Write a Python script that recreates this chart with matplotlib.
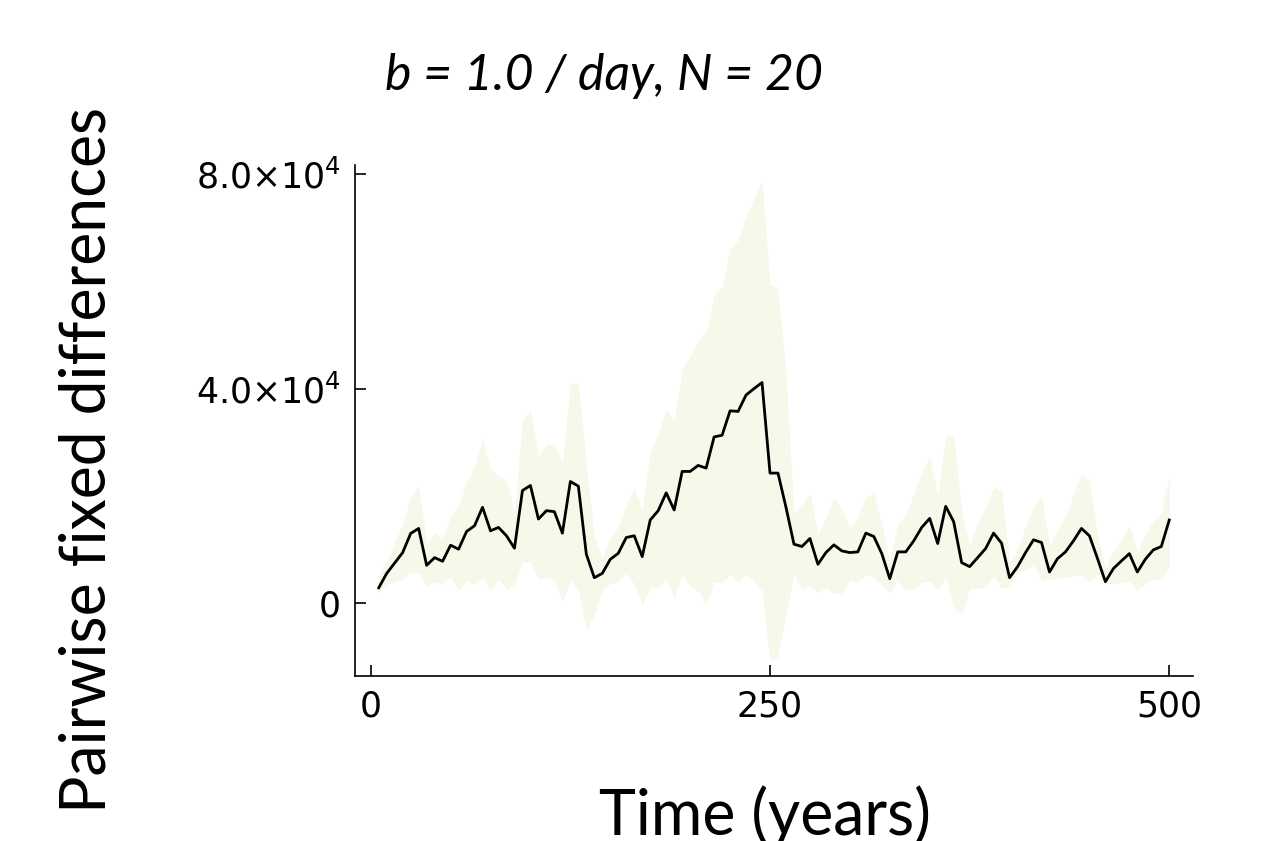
import numpy as np
import matplotlib
matplotlib.use("Agg")
import matplotlib.pyplot as plt

# time grid (years) and ribbon data
time = np.arange(5, 505, 5)

mean_diff = [2870, 5560, 7500, 9430, 12990, 13930, 7060, 8490, 7810, 10810,
             10060, 13360, 14430, 17870, 13490, 14120, 12560, 10240, 20990, 21930,
             15680, 17240, 17050, 13050, 22680, 21800, 9120, 4750, 5560, 8180,
             9300, 12240, 12560, 8680, 15500, 17240, 20560, 17370, 24550, 24550,
             25670, 25170, 30980, 31300, 35850, 35730, 38790, 39980, 41110, 24240,
             24240, 17870, 11000, 10560, 12060, 7250, 9430, 10870, 9740, 9430,
             9560, 13060, 12430, 9240, 4560, 9560, 9560, 11620, 14120, 15800,
             11120, 18050, 15180, 7560, 6810, 8490, 10180, 13060, 11180, 4750,
             6810, 9430, 11810, 11310, 5810, 8300, 9560, 11620, 13930, 12560,
             8370, 4000, 6450, 7870, 9240, 5810, 8180, 9930, 10560, 15500]

upper_diff = [5000, 7870, 11310, 14740, 19740, 21930, 11120, 13060, 12120, 16300,
              18180, 22550, 25360, 30670, 25050, 23800, 22740, 16930, 34110, 35980,
              27230, 29610, 29610, 26300, 40850, 41100, 26000, 12240, 8620, 12430,
              14120, 18500, 21490, 17550, 28170, 31610, 36300, 33980, 43600, 45970,
              49100, 50350, 57340, 58970, 65960, 67710, 72210, 75330, 78950, 59410,
              58600, 43000, 16620, 18500, 20570, 12870, 15990, 19740, 17550, 14120,
              15990, 19740, 20570, 14740, 7870, 14740, 16620, 20370, 24420, 27230,
              20050, 31110, 31110, 17240, 10680, 14740, 17870, 21620, 21120, 7560,
              10060, 14430, 17870, 20050, 10680, 13810, 15990, 20370, 24110, 22740,
              12870, 6620, 9700, 11620, 14620, 9430, 12870, 15370, 16930, 24110]

lower_diff = [2000, 3500, 3930, 4430, 5810, 5680, 3060, 3930, 3620, 4930,
              2250, 4250, 3370, 4750, 2250, 4430, 2560, 3370, 7680, 7680,
              4560, 4750, 4120, 370, 4310, 2250, -4930, -2120, 2560, 3620,
              4000, 5700, 3500, -120, 2870, 3000, 4750, 1000, 5370, 3190,
              2250, -120, 4000, 3810, 5370, 3810, 5370, 4000, 2250, -10870,
              -9930, -2120, 5370, 2780, 3190, 1870, 3000, 1810, 1870, 4430,
              3810, 5370, 4750, 3370, 1810, 4250, 2440, 2440, 3810, 4120,
              2370, 4870, -870, -1940, 2750, 2750, 3000, 5060, 2870, 3000,
              5680, 6310, 7120, 4310, 4430, 4750, 4750, 5060, 5250, 3810,
              5370, 3500, 3700, 3810, 4120, 2250, 3620, 4430, 4620, 6600]

x_ticks = [0, 250, 500]
y_ticks = [0, 40000, 80000]
y_tick_labels = ["0", r"$4.0{\times}10^{4}$", r"$8.0{\times}10^{4}$"]

if __name__ == '__main__':
    fig = plt.figure(figsize=(12.61, 8.41), dpi=100)
    ax = fig.add_axes([355 / 1261, 1 - 676 / 841, (1193 - 355) / 1261, (676 - 165) / 841])

    ax.fill_between(time, lower_diff, upper_diff, color="#f7f8ea", linewidth=0)
    ax.plot(time, mean_diff, color="black", linewidth=2.0)
    ax.margins(x=0.03, y=0.03)

    ax.set_xticks(x_ticks)
    ax.set_yticks(y_ticks)
    ax.set_yticklabels(y_tick_labels)
    ax.tick_params(direction="in", length=8, width=1.2, labelsize=25, pad=10)
    for side in ["top", "right"]:
        ax.spines[side].set_visible(False)
    for side in ["left", "bottom"]:
        ax.spines[side].set_linewidth(1.2)

    # labels placed in figure coordinates like the reference
    fig.text(604 / 1261, 1 - 90 / 841, "b = 1.0 / day, N = 20", family="Lato",
             style="italic", fontsize=36, ha="center", va="baseline")
    fig.text(765 / 1261, 1 - 835 / 841, "Time (years)", family="Lato",
             fontsize=45, ha="center", va="baseline")
    fig.text(88 / 1261, 1 - 460 / 841, "Pairwise fixed differences", family="Lato",
             fontsize=45, rotation=90, ha="center", va="center")

    fig.savefig("out.png", dpi=100)
